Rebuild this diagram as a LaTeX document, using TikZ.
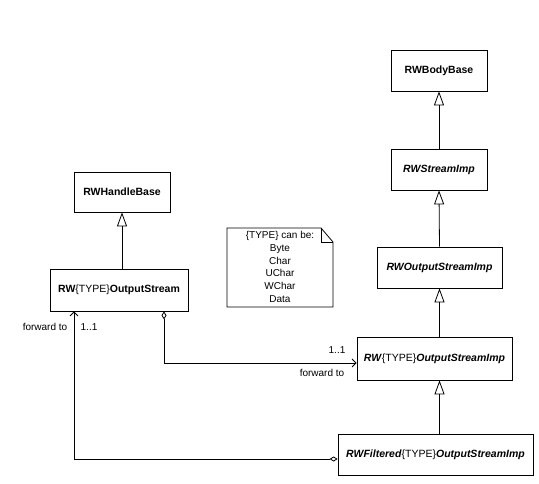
\documentclass[tikz,border=0pt]{standalone}
\usepackage{fontspec}
\setmainfont{Liberation Sans}
\usetikzlibrary{arrows.meta,positioning,calc}
\newcommand{\tparam}{\textnormal{\{TYPE\}}}

\begin{document}
\begin{tikzpicture}[x=1pt,y=-1pt,
    cls/.style={draw,line width=0.8pt,inner sep=0pt,font=\bfseries\fontsize{10.5}{13}\selectfont},
    lbl/.style={inner sep=0pt,font=\fontsize{10}{12.8}\selectfont},
    inherit/.style={line width=0.8pt,-{Triangle[open,length=14pt,width=10pt]}},
    fwd/.style={line width=0.8pt,{Diamond[open,length=8pt,width=5pt]}-{Straight Barb[length=4pt,width=8pt]}}]
  \useasboundingbox (0,0) rectangle (539,484);

  % classes
  \node[cls,minimum width=96pt,minimum height=41pt] (body) at (439,70.5) {RWBodyBase};
  \node[cls,minimum width=96pt,minimum height=41pt] (strimp) at (439,169.5) {\itshape RWStreamImp};
  \node[cls,minimum width=125pt,minimum height=41pt] (outimp) at (439.5,267.5) {\itshape RWOutputStreamImp};
  \node[cls,minimum width=155pt,minimum height=43pt] (typeimp) at (434.5,358.5) {\itshape RW\tparam OutputStreamImp};
  \node[cls,minimum width=195pt,minimum height=41pt] (filtered) at (435.5,454.5) {\itshape RWFiltered\tparam OutputStreamImp};
  \node[cls,minimum width=96pt,minimum height=40pt] (handle) at (122,192) {RWHandleBase};
  \node[cls,minimum width=138pt,minimum height=42pt] (ostream) at (119,290) {RW\tparam OutputStream};

  % note
  \draw[line width=0.8pt] (227,228) -- (321,228) -- (333,242) -- (333,307) -- (227,307) -- cycle;
  \draw[line width=0.8pt] (321,228) -- (321,242) -- (333,242);
  \node[lbl,align=center] (types) at (280,267) {\tparam{} can be:\\Byte\\Char\\UChar\\WChar\\Data};

  % generalizations
  \draw[inherit] (strimp.north) -- (body.south);
  \draw[inherit] (outimp.north) -- (strimp.south);
  \draw[inherit] (outimp.south |- typeimp.north) -- (outimp.south);
  \draw[inherit] (outimp.south |- filtered.north) -- (outimp.south |- typeimp.south);
  \draw[inherit] (ostream.north -| handle) -- (handle.south);

  % forwarding
  \draw[fwd] ([xshift=45pt]ostream.south) |- ([yshift=-4.5pt]typeimp.west);
  \draw[fwd] ([yshift=-4.5pt]filtered.west) -| ([xshift=-45pt]ostream.south);
  \node[lbl] (m1) at (337,350) {1..1};
  \node[lbl] (f1) at (322,373) {forward to};
  \node[lbl] (f2) at (45,327) {forward to};
  \node[lbl] (m2) at (89,327) {1..1};
\end{tikzpicture}
\end{document}
